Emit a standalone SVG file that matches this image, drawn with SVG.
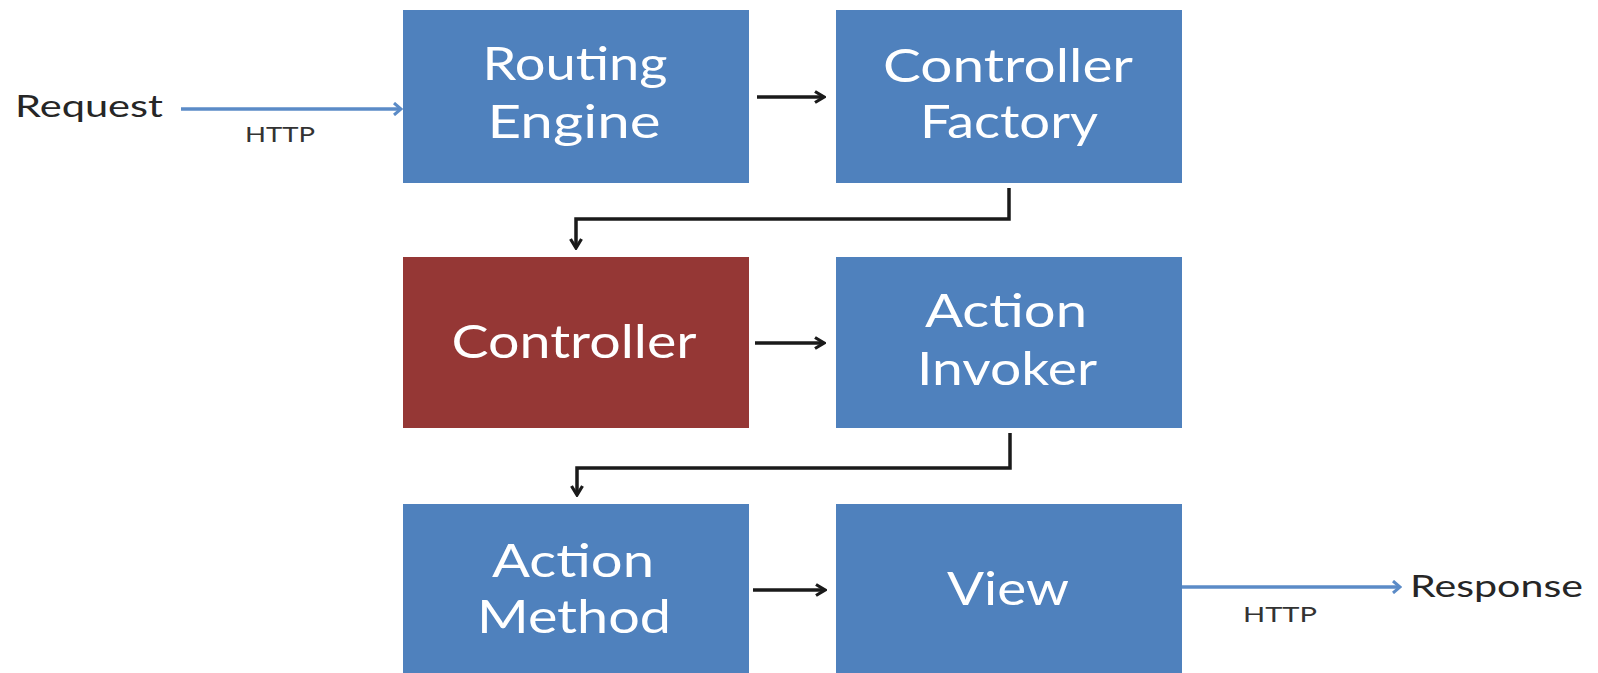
<svg xmlns="http://www.w3.org/2000/svg" width="1598" height="673" viewBox="0 0 1598 673">
  <defs>
    <style>
      .box-blue { fill: #4F81BD; }
      .box-red { fill: #953735; }
      .label { font-family: Lato, "Open Sans", "Liberation Sans", sans-serif; font-size: 46px; fill: #ffffff; text-anchor: middle; }
      .side { font-family: Lato, "Open Sans", "Liberation Sans", sans-serif; font-size: 31px; fill: #262626; }
      .proto { font-family: Lato, "Open Sans", "Liberation Sans", sans-serif; font-size: 22px; fill: #333333; }
      .flow { fill: none; stroke: #1a1a1a; stroke-width: 3.5; }
      .http { fill: none; stroke: #5B8BC7; stroke-width: 3.5; }
    </style>
    <marker id="arrow-black" viewBox="0 0 14 14" refX="12" refY="7" markerWidth="14" markerHeight="14" markerUnits="userSpaceOnUse" orient="auto">
      <path d="M3,1.5 L12,7 L3,12.5" fill="none" stroke="#1a1a1a" stroke-width="3.2"/>
    </marker>
    <marker id="arrow-blue" viewBox="0 0 12 14" refX="10" refY="7" markerWidth="12" markerHeight="14" markerUnits="userSpaceOnUse" orient="auto">
      <path d="M3,1 L10,7 L3,13" fill="none" stroke="#5B8BC7" stroke-width="3"/>
    </marker>
  </defs>

  <rect width="1598" height="673" fill="#ffffff"/>

  <!-- request / response labels -->
  <g id="request">
    <text class="side" x="15" y="117" textLength="148" lengthAdjust="spacingAndGlyphs">Request</text>
    <text class="proto" x="245" y="142" textLength="70" lengthAdjust="spacingAndGlyphs">HTTP</text>
  </g>
  <g id="response">
    <text class="side" x="1410" y="597" textLength="173" lengthAdjust="spacingAndGlyphs">Response</text>
    <text class="proto" x="1243" y="622" textLength="74" lengthAdjust="spacingAndGlyphs">HTTP</text>
  </g>

  <!-- pipeline stages -->
  <g id="routing-engine">
    <rect class="box-blue" x="403" y="10" width="346" height="173"/>
    <text class="label" x="575" y="80" textLength="185" lengthAdjust="spacingAndGlyphs">Routing</text>
    <text class="label" x="574" y="138" textLength="173" lengthAdjust="spacingAndGlyphs">Engine</text>
  </g>
  <g id="controller-factory">
    <rect class="box-blue" x="836" y="10" width="346" height="173"/>
    <text class="label" x="1008" y="82" textLength="250" lengthAdjust="spacingAndGlyphs">Controller</text>
    <text class="label" x="1009" y="138" textLength="178" lengthAdjust="spacingAndGlyphs">Factory</text>
  </g>
  <g id="controller">
    <rect class="box-red" x="403" y="257" width="346" height="171"/>
    <text class="label" x="574" y="358" textLength="245" lengthAdjust="spacingAndGlyphs">Controller</text>
  </g>
  <g id="action-invoker">
    <rect class="box-blue" x="836" y="257" width="346" height="171"/>
    <text class="label" x="1006" y="327" textLength="162" lengthAdjust="spacingAndGlyphs">Action</text>
    <text class="label" x="1007" y="385" textLength="180" lengthAdjust="spacingAndGlyphs">Invoker</text>
  </g>
  <g id="action-method">
    <rect class="box-blue" x="403" y="504" width="346" height="180"/>
    <text class="label" x="573" y="577" textLength="162" lengthAdjust="spacingAndGlyphs">Action</text>
    <text class="label" x="574" y="633" textLength="194" lengthAdjust="spacingAndGlyphs">Method</text>
  </g>
  <g id="view">
    <rect class="box-blue" x="836" y="504" width="346" height="180"/>
    <text class="label" x="1008" y="605" textLength="122" lengthAdjust="spacingAndGlyphs">View</text>
  </g>

  <!-- connectors -->
  <g id="connectors">
    <line class="http" x1="181" y1="109" x2="401" y2="109" marker-end="url(#arrow-blue)"/>
    <line class="flow" x1="757" y1="97" x2="824" y2="97" marker-end="url(#arrow-black)"/>
    <polyline class="flow" points="1009,188 1009,219 576,219 576,248" marker-end="url(#arrow-black)"/>
    <line class="flow" x1="755" y1="343" x2="824" y2="343" marker-end="url(#arrow-black)"/>
    <polyline class="flow" points="1010,433 1010,468 577,468 577,495" marker-end="url(#arrow-black)"/>
    <line class="flow" x1="753" y1="590" x2="825" y2="590" marker-end="url(#arrow-black)"/>
    <line class="http" x1="1182" y1="587" x2="1400" y2="587" marker-end="url(#arrow-blue)"/>
  </g>
</svg>
